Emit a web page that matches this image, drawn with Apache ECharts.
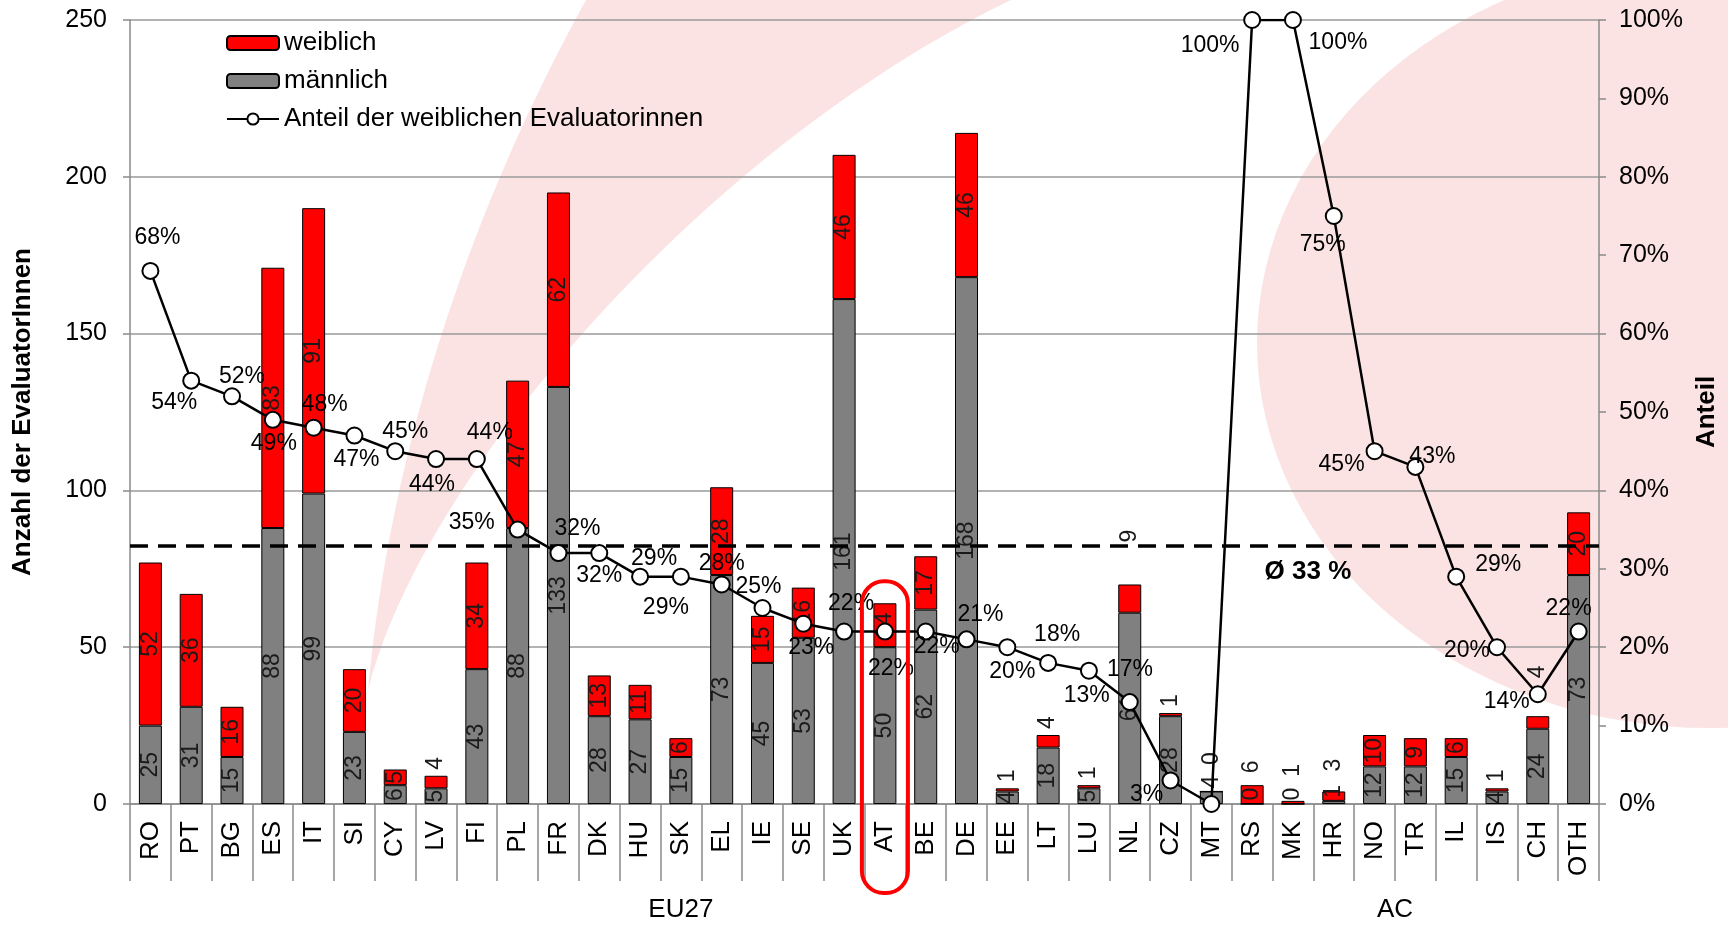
<!DOCTYPE html>
<html>
<head>
<meta charset="utf-8">
<title>EvaluatorInnen nach Geschlecht</title>
<script src="https://cdn.jsdelivr.net/npm/echarts@6/dist/echarts.min.js"></script>
<style>
  html, body { margin: 0; padding: 0; background: #fff; }
  #chart { width: 1728px; height: 926px; }
</style>
</head>
<body>
<div id="chart"></div>
<script>
// Countries in display order
const categories = ['RO','PT','BG','ES','IT','SI','CY','LV','FI','PL','FR','DK','HU','SK','EL','IE','SE','UK','AT','BE','DE','EE','LT','LU','NL','CZ','MT','RS','MK','HR','NO','TR','IL','IS','CH','OTH'];
// Number of evaluators per country
const male   = [25,31,15,88,99,23,6,5,43,88,133,28,27,15,73,45,53,161,50,62,168,4,18,5,61,28,4,0,0,1,12,12,15,4,24,73];
const female = [52,36,16,83,91,20,5,4,34,47,62,13,11,6,28,15,16,46,14,17,46,1,4,1,9,1,0,6,1,3,10,9,6,1,4,20];
// Share of female evaluators in percent
const femaleShare = [68,54,52,49,48,47,45,44,44,35,32,32,29,29,28,25,23,22,22,22,21,20,18,17,13,3,0,100,100,75,45,43,29,20,14,22];
// Country groups along the axis: [name, number of countries]
const groups = [['EU27', 27], ['AC', 8], ['', 1]];
// Average share of female evaluators in percent
const averageShare = 33;
const yLeftTicks = [0, 250, 50];
const yRightTicks = [0, 100, 10];

// ---- label layout ----
const FONT = "'Liberation Sans', Arial, Helvetica, sans-serif";
// offsets [dx, dy] of the share labels from their points
const shareLabelOffset = {
  RO:[7,-33], PT:[-17,22], BG:[10,-20], ES:[1,24], IT:[11,-23], SI:[2,24], CY:[10,-20], LV:[-4,26],
  FI:[13,-26], PL:[-46,-7], FR:[19,-24], DK:[0,23], HU:[14,-18], SK:[-15,31], EL:[0,-21], IE:[-4,-21],
  SE:[8,24], UK:[7,-28], AT:[6,37], BE:[11,15], DE:[14,-25], EE:[5,24], LT:[9,-28], LU:[41,-1],
  NL:[-43,-6], CZ:[-24,14], RS:[-42,26], MK:[45,23], HR:[-11,29], NO:[-33,13], TR:[17,-10],
  IL:[42,-12], IS:[-30,3], CH:[-31,7], OTH:[-10,-23]
};
const hiddenShareLabels = ['MT'];
// counts written above the bar instead of inside
const femaleLabelAbove = ['LV','EE','LT','LU','NL','CZ','MT','RS','MK','HR','IS','CH'];
const femaleLabelDistance = { MT: 26, NL: 42, MK: 24, HR: 20, CH: 38, RS: 12 };
const maleLabelAbove = ['MT','RS','MK','HR'];

const barLabelBase = { show: true, rotate: 90, fontSize: 23, fontFamily: FONT, color: '#1a1a1a' };
const insideLabel = Object.assign({}, barLabelBase, { position: 'inside', align: 'center', verticalAlign: 'middle' });
const aboveLabel = d => Object.assign({}, barLabelBase, { position: 'top', align: 'left', verticalAlign: 'middle', distance: d });

const maleData = male.map((v, i) => ({
  value: v,
  label: maleLabelAbove.includes(categories[i]) ? aboveLabel(3) : insideLabel
}));
const femaleData = female.map((v, i) => {
  const c = categories[i];
  return {
    value: v,
    label: femaleLabelAbove.includes(c) ? aboveLabel(femaleLabelDistance[c] || 6) : insideLabel
  };
});
const shareData = femaleShare.map((v, i) => {
  const c = categories[i];
  return {
    value: v,
    label: hiddenShareLabels.includes(c)
      ? { show: false }
      : { show: true, position: 'inside', offset: shareLabelOffset[c] || [0, -24] }
  };
});

// second axis row: half-step slots so group names can sit between countries
const slots = [];
for (let i = 0; i <= categories.length * 2; i++) slots.push(String(i));
const groupTickIdx = [];
const groupLabelIdx = {};
let start = 0;
groups.forEach(([name, n]) => {
  groupTickIdx.push(start * 2);
  if (name) groupLabelIdx[start * 2 + n] = name;
  start += n;
});

// pale background swoosh, sampled from two cubic curves
function cubic(p0, p1, p2, p3, steps) {
  const pts = [];
  for (let k = 0; k <= steps; k++) {
    const t = k / steps, u = 1 - t;
    pts.push([
      u*u*u*p0[0] + 3*u*u*t*p1[0] + 3*u*t*t*p2[0] + t*t*t*p3[0],
      u*u*u*p0[1] + 3*u*u*t*p1[1] + 3*u*t*t*p2[1] + t*t*t*p3[1]
    ]);
  }
  return pts;
}
const swoosh = cubic([586,0],[470,210],[390,450],[368,690],40)
  .concat(cubic([368,690],[420,480],[700,150],[1011,0],40).slice(1));

const GRID_GREY = '#9a9a9a';
const AXIS_GREY = '#8a8a8a';
const PINK = '#fce3e3';

const chart = echarts.init(document.getElementById('chart'));
const option = {
  animation: false,
  textStyle: { fontFamily: FONT },
  grid: { left: 130, right: 128, top: 20, bottom: 122, containLabel: false },
  legend: {
    orient: 'vertical',
    left: 221,
    top: 25,
    itemWidth: 52,
    itemHeight: 14,
    itemGap: 12,
    textStyle: { fontSize: 26, fontFamily: FONT, color: '#000' },
    data: ['weiblich', 'männlich', 'Anteil der weiblichen Evaluatorinnen']
  },
  xAxis: [
    {
      type: 'category',
      data: categories,
      position: 'bottom',
      axisLine: { lineStyle: { color: AXIS_GREY, width: 1.5 } },
      axisTick: { show: true, interval: 0, length: 77, lineStyle: { color: AXIS_GREY, width: 1.5 } },
      axisLabel: { interval: 0, rotate: 90, fontSize: 26, margin: 17, color: '#000', fontFamily: FONT },
      splitLine: { show: false }
    },
    {
      type: 'category',
      data: slots,
      boundaryGap: false,
      position: 'bottom',
      offset: 77,
      axisLine: { show: false },
      axisTick: {
        show: true,
        length: 46,
        interval: (idx) => groupTickIdx.includes(idx),
        lineStyle: { color: AXIS_GREY, width: 1.5 }
      },
      axisLabel: {
        interval: (idx) => groupLabelIdx[idx] !== undefined,
        formatter: (val, idx) => groupLabelIdx[idx] || '',
        fontSize: 26, margin: 16, color: '#000', fontFamily: FONT
      },
      splitLine: { show: false }
    }
  ],
  yAxis: [
    {
      type: 'value',
      min: yLeftTicks[0], max: yLeftTicks[1], interval: yLeftTicks[2],
      name: 'Anzahl der EvaluatorInnen',
      nameLocation: 'middle',
      nameRotate: 90,
      nameGap: 94,
      nameTextStyle: { fontSize: 26, fontWeight: 'bold', color: '#000', fontFamily: FONT },
      axisLine: { show: true, lineStyle: { color: AXIS_GREY, width: 1.5 } },
      axisTick: { show: true, length: 7, lineStyle: { color: AXIS_GREY, width: 1.5 } },
      axisLabel: { fontSize: 25, margin: 23, color: '#000', fontFamily: FONT },
      splitLine: { show: true, lineStyle: { color: GRID_GREY, width: 1.5 } }
    },
    {
      type: 'value',
      min: yRightTicks[0], max: yRightTicks[1], interval: yRightTicks[2],
      position: 'right',
      name: 'Anteil',
      nameLocation: 'middle',
      nameRotate: 90,
      nameGap: 95,
      nameTextStyle: { fontSize: 26, fontWeight: 'bold', color: '#000', fontFamily: FONT },
      axisLine: { show: true, lineStyle: { color: AXIS_GREY, width: 1.5 } },
      axisTick: { show: true, length: 7, lineStyle: { color: AXIS_GREY, width: 1.5 } },
      axisLabel: { fontSize: 25, margin: 20, color: '#000', fontFamily: FONT, formatter: '{value}%' },
      splitLine: { show: false }
    }
  ],
  series: [
    {
      name: 'männlich',
      type: 'bar',
      stack: 'total',
      barWidth: 23,
      data: maleData,
      itemStyle: { color: '#808080', borderColor: '#000', borderWidth: 1 },
      z: 2
    },
    {
      name: 'weiblich',
      type: 'bar',
      stack: 'total',
      barWidth: 23,
      data: femaleData,
      itemStyle: { color: '#ff0000', borderColor: '#000', borderWidth: 1 },
      z: 2
    },
    {
      name: 'Anteil der weiblichen Evaluatorinnen',
      type: 'line',
      yAxisIndex: 1,
      data: shareData,
      symbol: 'circle',
      symbolSize: 16,
      showAllSymbol: true,
      lineStyle: { color: '#000', width: 2.5 },
      itemStyle: { color: '#fff', borderColor: '#000', borderWidth: 2 },
      label: { fontSize: 23, color: '#000', fontFamily: FONT, formatter: '{c}%' },
      z: 5,
      markLine: {
        silent: true,
        symbol: ['none', 'none'],
        lineStyle: { color: '#000', width: 3.5, type: [18, 10] },
        label: { show: false },
        data: [{ yAxis: averageShare }]
      },
      markPoint: {
        silent: true,
        symbol: 'circle',
        symbolSize: 1,
        itemStyle: { color: 'rgba(0,0,0,0)' },
        data: [{
          coord: ['MK', averageShare],
          label: {
            show: true, position: 'inside', offset: [15, 27],
            formatter: 'Ø ' + averageShare + ' %',
            fontSize: 26, fontWeight: 'bold', color: '#000', fontFamily: FONT
          }
        }]
      }
    }
  ]
};
chart.setOption(option);

// background shapes and the highlight frame around Austria
const atX = chart.convertToPixel({ xAxisIndex: 0 }, 'AT');
const frameTop = chart.convertToPixel({ yAxisIndex: 0 }, 71);
const frameBottom = chart.convertToPixel({ yAxisIndex: 0 }, 0) + 89;
chart.setOption({
  graphic: [
    {
      type: 'polygon',
      z: -10,
      silent: true,
      shape: { points: swoosh },
      style: { fill: PINK }
    },
    {
      type: 'circle',
      z: -10,
      silent: true,
      x: 1710, y: 343,
      scaleX: 453 / 385,
      shape: { cx: 0, cy: 0, r: 385 },
      style: { fill: PINK }
    },
    {
      type: 'rect',
      z: 20,
      silent: true,
      shape: { x: atX - 23, y: frameTop, width: 46, height: frameBottom - frameTop, r: 22 },
      style: { fill: 'none', stroke: '#ff0000', lineWidth: 4 }
    }
  ]
});
</script>
</body>
</html>
